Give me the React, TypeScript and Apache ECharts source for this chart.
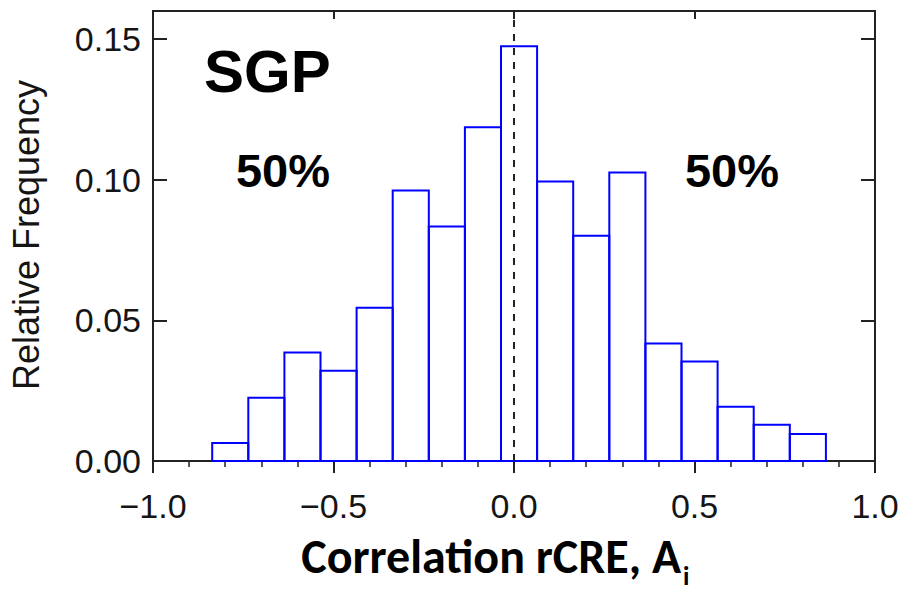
import React, { useEffect, useRef } from "react";
import * as echarts from "echarts";

// Histogram bin edges (correlation) and relative frequency per bin
const binEdges = [
  -0.836, -0.736, -0.636, -0.536, -0.436, -0.336, -0.236, -0.136, -0.036,
  0.064, 0.164, 0.264, 0.364, 0.464, 0.564, 0.664, 0.764, 0.864,
];
const frequency = [
  0.0064, 0.0225, 0.0386, 0.0321, 0.0545, 0.0962, 0.0834, 0.1187, 0.1475,
  0.0994, 0.0801, 0.1026, 0.0418, 0.0354, 0.0193, 0.0129, 0.0096,
];
const xTicks = [-1.0, -0.5, 0.0, 0.5, 1.0];
const yTicks = [0.0, 0.05, 0.1, 0.15];
const siteLabel = "SGP";
const shareLabels = ["50%", "50%"];

const AXIS_COLOR = "#222";
const TICK_FONT = "Liberation Sans, Arial, Helvetica, sans-serif";

export default function App() {
  const ref = useRef<HTMLDivElement>(null);

  useEffect(() => {
    if (!ref.current) return;
    const chart = echarts.init(ref.current, undefined, { renderer: "svg" });

    const bins = frequency.map((f, i) => [binEdges[i], binEdges[i + 1], f]);
    const xInterval = xTicks[1] - xTicks[0];
    const yInterval = yTicks[1] - yTicks[0];

    const axisLine = { show: true, onZero: false, lineStyle: { color: AXIS_COLOR, width: 2 } };

    const option: any = {
      animation: false,
      backgroundColor: "#ffffff",
      grid: { left: 153, right: 29, top: 11, bottom: 130, containLabel: false },
      xAxis: [
        {
          type: "value",
          position: "bottom",
          min: xTicks[0],
          max: xTicks[xTicks.length - 1],
          interval: xInterval,
          axisLine,
          axisTick: { show: true, inside: false, length: 12, lineStyle: { color: AXIS_COLOR, width: 2 } },
          minorTick: { show: true, splitNumber: 5, length: 6, lineStyle: { color: AXIS_COLOR, width: 1.5 } },
          splitLine: { show: false },
          minorSplitLine: { show: false },
          axisLabel: {
            margin: 28,
            fontSize: 34,
            fontFamily: TICK_FONT,
            color: "#151515",
            formatter: (v: number) => (v < 0 ? "\u2212" : "") + Math.abs(v).toFixed(1),
          },
        },
        {
          type: "value",
          position: "top",
          min: xTicks[0],
          max: xTicks[xTicks.length - 1],
          interval: xInterval,
          axisLine,
          axisTick: { show: true, inside: true, length: 8, lineStyle: { color: AXIS_COLOR, width: 2 } },
          splitLine: { show: false },
          axisLabel: { show: false },
        },
      ],
      yAxis: [
        {
          type: "value",
          position: "left",
          min: 0,
          max: 0.16,
          interval: yInterval,
          axisLine,
          axisTick: { show: true, inside: true, length: 14, lineStyle: { color: AXIS_COLOR, width: 2 } },
          splitLine: { show: false },
          axisLabel: {
            margin: 12,
            fontSize: 34,
            fontFamily: TICK_FONT,
            color: "#151515",
            formatter: (v: number) =>
              Math.round(v * 1000) % Math.round(yInterval * 1000) === 0 ? v.toFixed(2) : "",
          },
        },
        {
          type: "value",
          position: "right",
          min: 0,
          max: 0.16,
          interval: yInterval,
          axisLine,
          axisTick: { show: true, inside: true, length: 14, lineStyle: { color: AXIS_COLOR, width: 2 } },
          splitLine: { show: false },
          axisLabel: { show: false },
        },
      ],
      series: [
        {
          type: "custom",
          xAxisIndex: 0,
          yAxisIndex: 0,
          z: 3,
          encode: { x: [0, 1], y: 2 },
          data: bins,
          renderItem: (_params: any, api: any) => {
            const topLeft = api.coord([api.value(0), api.value(2)]);
            const bottomRight = api.coord([api.value(1), 0]);
            return {
              type: "rect",
              shape: {
                x: topLeft[0],
                y: topLeft[1],
                width: bottomRight[0] - topLeft[0],
                height: bottomRight[1] - topLeft[1],
              },
              style: { fill: "transparent", stroke: "#0000ff", lineWidth: 2 },
            };
          },
        },
        {
          type: "line",
          xAxisIndex: 0,
          yAxisIndex: 0,
          z: 4,
          symbol: "none",
          data: [
            [0, 0],
            [0, 0.16],
          ],
          lineStyle: { color: "#222", width: 2, type: [7, 7] },
        },
      ],
      graphic: [
        {
          type: "text",
          x: 204,
          y: 71,
          style: {
            text: siteLabel,
            font: "bold 60px Liberation Sans, Arial, sans-serif",
            fill: "#000",
            textAlign: "left",
            textVerticalAlign: "middle",
            align: "left",
            verticalAlign: "middle",
          },
        },
        {
          type: "text",
          x: 283,
          y: 170,
          style: {
            text: shareLabels[0],
            font: "bold 47px Liberation Sans, Arial, sans-serif",
            fill: "#000",
            textAlign: "center",
            textVerticalAlign: "middle",
            align: "center",
            verticalAlign: "middle",
          },
        },
        {
          type: "text",
          x: 732,
          y: 170,
          style: {
            text: shareLabels[1],
            font: "bold 47px Liberation Sans, Arial, sans-serif",
            fill: "#000",
            textAlign: "center",
            textVerticalAlign: "middle",
            align: "center",
            verticalAlign: "middle",
          },
        },
        {
          type: "text",
          x: 26,
          y: 235,
          rotation: Math.PI / 2,
          style: {
            text: "Relative Frequency",
            font: "36px Liberation Sans, Arial, sans-serif",
            fill: "#151515",
            textAlign: "center",
            textVerticalAlign: "middle",
            align: "center",
            verticalAlign: "middle",
          },
        },
        {
          type: "text",
          x: 681,
          y: 556,
          style: {
            text: "Correlation rCRE, A",
            font: "bold 48px Carlito, Open Sans, sans-serif",
            fill: "#000",
            textAlign: "right",
            textVerticalAlign: "middle",
            align: "right",
            verticalAlign: "middle",
          },
        },
        {
          type: "text",
          x: 683,
          y: 576,
          style: {
            text: "i",
            font: "bold 26px Carlito, Open Sans, sans-serif",
            fill: "#000",
            textAlign: "left",
            textVerticalAlign: "middle",
            align: "left",
            verticalAlign: "middle",
          },
        },
      ],
    };

    chart.setOption(option);
    return () => chart.dispose();
  }, []);

  return (
    <div
      ref={ref}
      style={{ position: "fixed", left: 0, top: 0, width: 904, height: 591, background: "#fff" }}
    />
  );
}
